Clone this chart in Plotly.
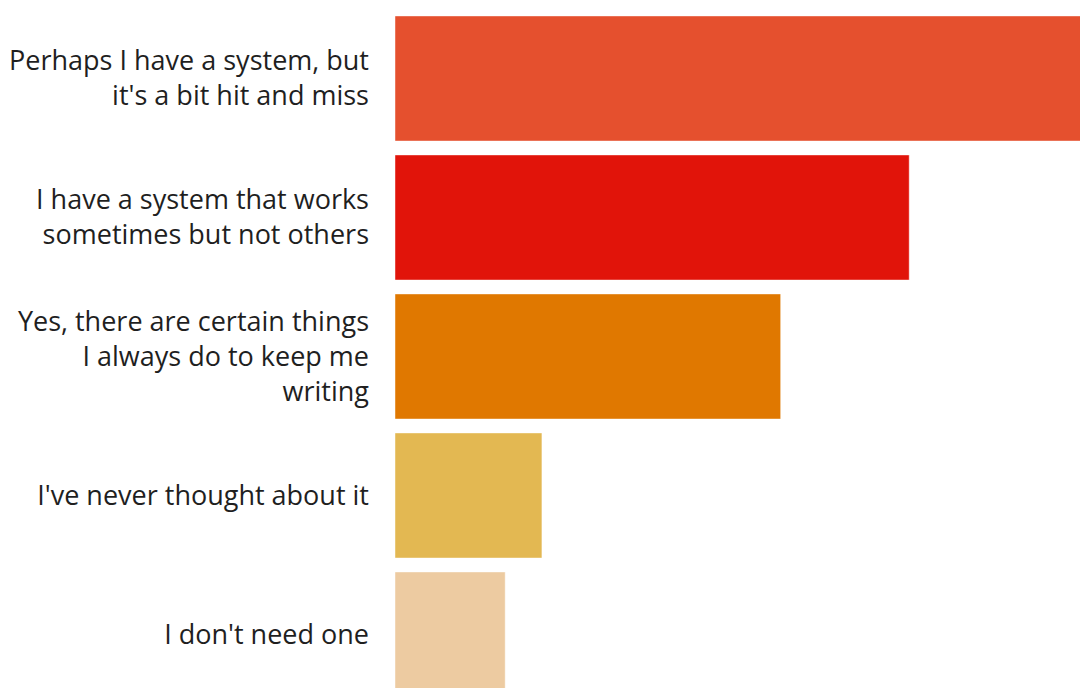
import plotly.graph_objects as go

# Survey answers, top to bottom, with the share of respondents for each
answers = [
    "Perhaps I have a system, but<br>it's a bit hit and miss",
    "I have a system that works<br>sometimes but not others",
    "Yes, there are certain things<br>I always do to keep me<br>writing",
    "I've never thought about it",
    "I don't need one",
]
shares = [38, 28, 21, 8, 6]
bar_colors = ["#E5502E", "#E1140A", "#E07800", "#E3B852", "#EDCBA1"]

fig = go.Figure(
    go.Bar(
        x=shares,
        y=answers,
        orientation="h",
        marker=dict(color=bar_colors, line=dict(color="rgba(255,255,255,0.45)", width=1)),
        hoverinfo="skip",
    )
)

fig.update_layout(
    width=1080,
    height=688,
    margin=dict(l=395, r=0, t=9, b=0),
    paper_bgcolor="white",
    plot_bgcolor="white",
    bargap=0.1,
    showlegend=False,
    font=dict(family="Open Sans, Noto Sans, sans-serif", size=27, color="#1f1f1f"),
)
fig.update_xaxes(range=[0, 37.3], visible=False)
fig.update_yaxes(
    type="category",
    range=[4.385, -0.5],
    showgrid=False,
    zeroline=False,
    showline=False,
    ticks="",
    ticklabelstandoff=25,
)

fig.write_html("out.html")
